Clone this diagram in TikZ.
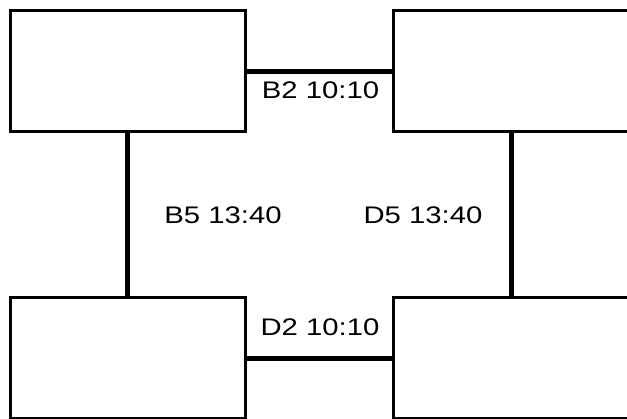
\documentclass[tikz,border=0pt]{standalone}
\usepackage{fontspec}
\setmainfont{Liberation Sans}[FakeStretch=1.22]
\usetikzlibrary{positioning}

\begin{document}
\begin{tikzpicture}[x=1pt,y=-1pt,
        box/.style={draw=black,line width=3pt,fill=white,minimum width=235.5pt,minimum height=121pt,
          inner sep=0pt,outer sep=0pt},
        link/.style={black,line width=5pt},
        lbl/.style={font=\fontsize{24}{28}\selectfont,inner sep=0pt}]
        \useasboundingbox (0,0) rectangle (627,419);
        \clip (0,0) rectangle (627,419);
        \node[box](tl) at (127.75,71.3){};
        \node[box](tr) at (511,71.3){};
        \node[box](bl) at (127.75,358.5){};
        \node[box](br) at (511,358.5){};
        \draw[link](tl.east)--(tr.west);\draw[link](bl.east)--(br.west);
        \draw[link](tl.south)--(bl.north);\draw[link](tr.south)--(br.north);
        \node[lbl](b2) at (320.5,90.5){B2 10:10};
        \node[lbl](d2) at (320,327.5){D2 10:10};
        \node[lbl](b5) at (223,215){B5 13:40};
        \node[lbl](d5) at (423,215){D5 13:40};
      \end{tikzpicture}
\end{document}
